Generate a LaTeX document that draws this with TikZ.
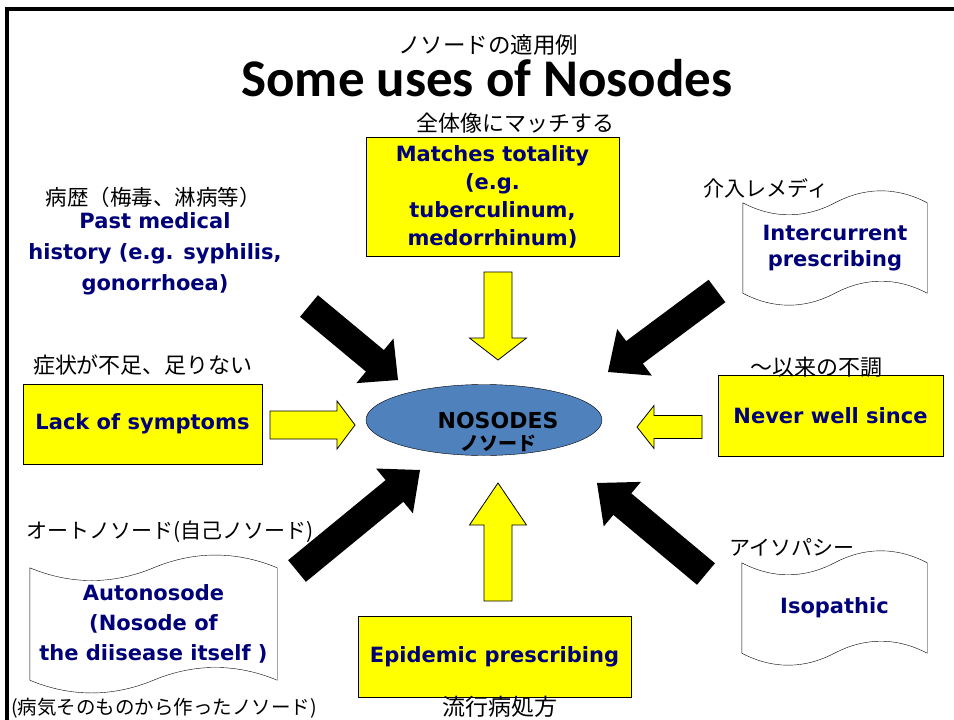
\documentclass[tikz,border=0pt]{standalone}
\usepackage{fontspec}
\setmainfont{DejaVu Sans}
\newfontfamily\jpfont{Noto Sans CJK JP}
\newfontfamily\titlefont{Carlito}
\usetikzlibrary{calc,shapes.geometric}
\definecolor{navytext}{RGB}{0,0,120}
\definecolor{nosodeblue}{HTML}{4F81BD}
\definecolor{boxyellow}{RGB}{255,255,0}
\tikzset{
  box_/.style    = {shape=rectangle, draw, fill=boxyellow, align=center, text=navytext,
                    font=\bfseries\fontsize{21}{28}\selectfont},
  wave_/.style   = {shape=rectangle, align=center, text=navytext,
                    font=\bfseries\fontsize{21}{30}\selectfont},
  jp_/.style     = {font=\jpfont\fontsize{22}{26}\selectfont},
  blackarrow_/.style  = {fill=black},
  yellowarrow_/.style = {fill=boxyellow, draw=black, line width=0.8pt}
}
% block arrow: [style]{tail}{tip}{half shaft}{half head}{head length}
\newcommand{\blockarrow}[6][blackarrow_]{%
  \coordinate (#3-base) at ($(#3)!#6!(#2)$);
  \path[#1] ($(#2)!#4!90:(#3)$) -- ($(#3-base)!#4!90:(#3)$) -- ($(#3-base)!#5!90:(#3)$)
    -- (#3) -- ($(#3-base)!#5!-90:(#3)$) -- ($(#3-base)!#4!-90:(#3)$)
    -- ($(#2)!#4!-90:(#3)$) -- cycle;}
% wavy outline round a node: {node}{bend}
\newcommand{\wavedraw}[2]{%
  \draw (#1.north west)
    .. controls ($(#1.north west)!0.33!(#1.north)+(0,#2)$) and ($(#1.north west)!0.67!(#1.north)+(0,#2)$) .. (#1.north)
    .. controls ($(#1.north)!0.33!(#1.north east)+(0,-#2)$) and ($(#1.north)!0.67!(#1.north east)+(0,-#2)$) .. (#1.north east)
    -- (#1.south east)
    .. controls ($(#1.south)!0.67!(#1.south east)+(0,-#2)$) and ($(#1.south)!0.33!(#1.south east)+(0,-#2)$) .. (#1.south)
    .. controls ($(#1.south west)!0.67!(#1.south)+(0,#2)$) and ($(#1.south west)!0.33!(#1.south)+(0,#2)$) .. (#1.south west)
    -- cycle;}

\begin{document}
\begin{tikzpicture}
	[
	x = 1pt, y = -1pt,
	every node/.style = {inner sep=0pt}
	]
	\useasboundingbox (0,0) rectangle (954,720);
	\draw[line width=3.5pt] (7,720) -- (7,9) -- (954,9);

	% title
	\node [jp_, font=\jpfont\fontsize{22.5}{26}\selectfont] (titlejp) at (488,45) {ノソードの適用例};
	\node [font=\titlefont\bfseries\fontsize{53}{56}\selectfont] (title) at (487,78) {Some uses of Nosodes};

	% centre
	\node [shape=ellipse, draw, fill=nosodeblue, minimum width=236pt, minimum height=71pt,
	       label={[xshift=14pt, yshift=-12pt, align=center, font=\bfseries\fontsize{22}{22}\selectfont]center:NOSODES\\{\jpfont\fontsize{19}{20}\selectfont ノソード}}]
	      (nosodes) at (484,420) {};

	% boxes
	\node [box_, minimum width=253pt, minimum height=119pt] (totality) at (492.5,196.5)
	      {Matches totality\\(e.g.\\tuberculinum,\\medorrhinum)};
	\node [box_, minimum width=239pt, minimum height=80pt] (lack) at (142.5,424) {Lack of symptoms};
	\node [box_, minimum width=225pt, minimum height=81pt] (never) at (830.5,415.5) {Never well since};
	\node [box_, minimum width=273pt, minimum height=81pt] (epidemic) at (494.5,656.5) {Epidemic prescribing};

	\node [wave_, minimum width=184pt, minimum height=90pt] (intercurrent) at (835,248)
	      {Intercurrent\\[-4pt]prescribing};
	\node [wave_, minimum width=185pt, minimum height=90pt] (isopathic) at (834.5,608) {Isopathic};
	\node [wave_, minimum width=247pt, minimum height=112pt] (autonosode) at (153.5,624)
	      {Autonosode\\(Nosode of\\the diisease itself )};
	\wavedraw{intercurrent}{16}
	\wavedraw{isopathic}{16}
	\wavedraw{autonosode}{17}

	\node [align=center, text=navytext, font=\bfseries\fontsize{21}{31}\selectfont] (history) at (155,254)
	      {Past medical\\history (e.g. syphilis,\\gonorrhoea)};

	% japanese labels
	\node [jp_] (totalityjp) at (515,123) {全体像にマッチする};
	\node [jp_, font=\jpfont\fontsize{21.5}{24}\selectfont] (historyjp) at (153,197) {病歴（梅毒、淋病等）};
	\node [jp_, font=\jpfont\fontsize{21}{24}\selectfont] (intercurrentjp) at (766,188) {介入レメディ};
	\node [jp_] (lackjp) at (143,365) {症状が不足、足りない};
	\node [jp_] (neverjp) at (816,367) {～以来の不調};
	\node [jp_, font=\jpfont\fontsize{21}{24}\selectfont] (autonosodejp) at (170,532) {オートノソード(自己ノソード)};
	\node [jp_, font=\jpfont\fontsize{19.5}{24}\selectfont] (autonosodejp2) at (164,708) {(病気そのものから作ったノソード)};
	\node [jp_, font=\jpfont\fontsize{21}{24}\selectfont] (isopathicjp) at (792,547) {アイソパシー};
	\node [jp_, font=\jpfont\fontsize{23}{26}\selectfont] (epidemicjp) at (500,707) {流行病処方};

	% yellow arrows
	\coordinate (top-tail) at (498,272);   \coordinate (top-tip) at (498,360);
	\coordinate (bot-tail) at (498,601);   \coordinate (bot-tip) at (498,483);
	\coordinate (left-tail) at (270,425);  \coordinate (left-tip) at (355,425);
	\coordinate (right-tail) at (702,427); \coordinate (right-tip) at (637,427);
	\blockarrow[yellowarrow_]{top-tail}{top-tip}{14pt}{28.5pt}{22pt}
	\blockarrow[yellowarrow_]{bot-tail}{bot-tip}{14pt}{28.5pt}{42pt}
	\blockarrow[yellowarrow_]{left-tail}{left-tip}{14pt}{24pt}{18pt}
	\blockarrow[yellowarrow_]{right-tail}{right-tip}{11.5pt}{21.5pt}{17pt}

	% black arrows
	\coordinate (tl-tail) at (309,306); \coordinate (tl-tip) at (398,380);
	\coordinate (tr-tail) at (717,291); \coordinate (tr-tip) at (608,372);
	\coordinate (bl-tail) at (297,571); \coordinate (bl-tip) at (420,470);
	\coordinate (br-tail) at (706,574); \coordinate (br-tip) at (597,483);
	\blockarrow{tl-tail}{tl-tip}{14pt}{29pt}{30pt}
	\blockarrow{tr-tail}{tr-tip}{14pt}{29pt}{33pt}
	\blockarrow{bl-tail}{bl-tip}{14pt}{29pt}{33pt}
	\blockarrow{br-tail}{br-tip}{14pt}{29pt}{33pt}
\end{tikzpicture}
\end{document}
